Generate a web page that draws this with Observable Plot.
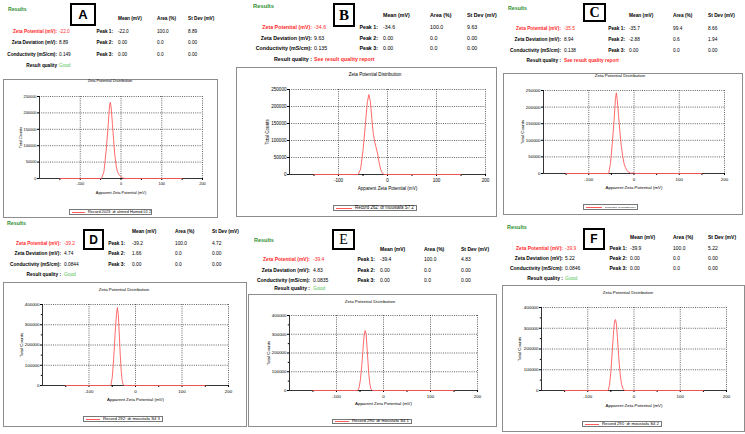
<!DOCTYPE html>
<html><head><meta charset="utf-8">
<script src="https://cdn.jsdelivr.net/npm/d3@7"></script>
<script src="https://cdn.jsdelivr.net/npm/@observablehq/plot@0.6"></script>
<style>
body{margin:0;background:#fff;}
#root{position:relative;width:745px;height:434px;overflow:hidden;font-family:"Liberation Sans",Arial,sans-serif;background:#fff;}
.t{position:absolute;white-space:nowrap;line-height:1;}
.frame{position:absolute;border:1px solid #8c8c8c;box-sizing:border-box;}
.box{position:absolute;border:2px solid #000;box-sizing:border-box;display:flex;align-items:center;justify-content:center;font-weight:bold;line-height:1;}
.leg{position:absolute;border:0.8px solid #777;box-sizing:border-box;}
.chart{position:absolute;}
</style>
</head><body><div id="root"></div>
<script>
// ---------- data ----------
const panels = ["A","B","C","D","E","F"];
const recordNames = ["Record 2023: dr ahmed Hamed 01 2","Record 262: dr moustafa S7 2","Record 261: dr moustafa S7 1","Record 292: dr moustafa S4 3","Record 290: dr moustafa S4 1","Record 291: dr moustafa S4 2"];
const zetaPotential = ["-22.0","-34.6","-35.5","-39.2","-39.4","-39.9"];
const zetaDeviation = ["8.89","9.63","8.94","4.74","4.83","5.22"];
const conductivity = ["0.149","0.135","0.138","0.0844","0.0835","0.0846"];
const resultQuality = ["Good","See result quality report","See result quality report","Good","Good","Good"];
const peak1 = [["-22.0","100.0","8.89"],["-34.6","100.0","9.63"],["-35.7","99.4","8.66"],["-39.2","100.0","4.72"],["-39.4","100.0","4.83"],["-39.9","100.0","5.22"]];
const peak2 = [["0.00","0.0","0.00"],["0.00","0.0","0.00"],["-2.88","0.6","1.94"],["1.66","0.0","0.00"],["0.00","0.0","0.00"],["0.00","0.0","0.00"]];
const peak3 = [["0.00","0.0","0.00"],["0.00","0.0","0.00"],["0.00","0.0","0.00"],["0.00","0.0","0.00"],["0.00","0.0","0.00"],["0.00","0.0","0.00"]];
const rowLabels = ["Zeta Potential (mV):","Zeta Deviation (mV):","Conductivity (mS/cm):"];
const peakLabels = ["Peak 1:","Peak 2:","Peak 3:"];
const colHeaders = ["Mean (mV)","Area (%)","St Dev (mV)"];
const qualityLabels = ["Result quality","Result quality :","Result quality :","Result quality :","Result quality :","Result quality :"];
const xTickValues = [-150,-100,-50,0,50,100,150,200];
const yMaxes = [250000,250000,250000,400000,400000,400000];
const yStepValues = [50000,50000,50000,100000,100000,100000];

const zetaA = [-150,-48,-42,-36,-31,-28,-26,-24,-21,-18,-15,-12,-9,-6,-3,0,4,8,150];
const countsA = [0,0,20000,90000,170000,225000,232000,215000,165000,115000,70000,40000,22000,14000,9000,5000,1500,0,0];
const zetaB = [-150,-60,-55,-50,-45,-41,-38,-35,-32,-29,-26,-23,-20,-17,-14,-11,-7,150];
const countsB = [0,0,15000,70000,150000,215000,235000,215000,165000,120000,95000,78000,60000,35000,15000,5000,0,0];
const zetaC = [-150,-56,-52,-48,-44,-41,-39,-37,-34,-31,-28,-25,-22,-19,-16,-12,-8,-4,-2,1,150];
const countsC = [0,0,30000,90000,160000,225000,243000,222000,172000,122000,82000,52000,30000,18000,10000,4000,1500,500,2500,0,0];
const zetaD = [-150,-53,-50,-47,-44,-41,-39,-37,-35,-33,-31,-29,-27,-25,150];
const countsD = [0,0,40000,130000,250000,350000,385000,350000,260000,160000,80000,30000,8000,0,0];
const zetaE = [-150,-55,-52,-49,-46,-43,-41,-39,-37,-35,-33,-31,-29,-27,-24,150];
const countsE = [0,0,15000,60000,140000,240000,300000,320000,300000,230000,150000,80000,35000,10000,0,0];
const zetaF = [-150,-56,-53,-50,-47,-44,-42,-40,-38,-36,-33,-30,-27,-24,-20,150];
const countsF = [0,0,25000,90000,190000,290000,335000,342000,320000,260000,160000,80000,30000,8000,0,0];
const curveX = [zetaA,zetaB,zetaC,zetaD,zetaE,zetaF];
const curveY = [countsA,countsB,countsC,countsD,countsE,countsF];

// ---------- layout ----------
const FONT = '"Liberation Sans", Arial, sans-serif';
const SERIF = '"Liberation Serif", "Times New Roman", serif';
const LAY = [
 {fs:4.7, res:[8,10], box:[70,3,96,26], lf:FONT, ls:13, headY:19, rows:[32.5,43.5,55,66], labR:57, valL:59, peakR:113, cols:[118,157,188],
  frame:[3,79,218,218], titleX:110, titleY:81, plot:[39,202,96,178], ylabX:20, xlabY:192, cfs:3.9, legend:[69,209,152,215], legTextX:88},
 {fs:5.3, res:[253,7], box:[333,3,355,27], lf:SERIF, ls:15, headY:16, rows:[28,38.5,49,60], labR:312, valL:314, peakR:378, cols:[383,430,467],
  frame:[236,67,497,217], titleX:375, titleY:75, plot:[289,485,89,174], ylabX:267, xlabY:188, cfs:4.6, legend:[333,205,417,211], legTextX:355},
 {fs:4.8, res:[508,9], box:[583,3,606,22], lf:SERIF, ls:14, headY:16, rows:[29.5,40,51,61], labR:561, valL:564, peakR:625, cols:[629,673,708],
  frame:[503,73,743,215], titleX:620, titleY:76, plot:[543,724,90,173], ylabX:522, xlabY:187, cfs:4.4, legend:[583,204,638,210], legTextX:605},
 {fs:4.8, res:[7,224], box:[83,229,104,250], lf:FONT, ls:12, headY:232, rows:[244,254,265,275], labR:61, valL:64, peakR:125, cols:[132,175,212],
  frame:[3,282,247,427], titleX:124, titleY:290, plot:[42,228,304,385], ylabX:21, xlabY:399, cfs:4.4, legend:[83,416,163,422], legTextX:103},
 {fs:5.0, res:[254,241], box:[332,229,355,250], lf:SERIF, ls:14, headY:249, rows:[259,270,280,288], labR:310, valL:313, peakR:375, cols:[380,424,461],
  frame:[248,294,497,427], titleX:370, titleY:302, plot:[289,477,315,390], ylabX:268, xlabY:403, cfs:4.4, legend:[332,419,412,424], legTextX:352},
 {fs:5.0, res:[507,228], box:[583,228,605,250], lf:FONT, ls:12, headY:237, rows:[248,258,268,278], labR:563, valL:565, peakR:627, cols:[630,673,708],
  frame:[502,285,745,432], titleX:628, titleY:293, plot:[541,726,307,390], ylabX:519, xlabY:405, cfs:4.4, legend:[582,421,662,427], legTextX:602}
];
const RED = "#ff2a2a", GREEN = "#2f8f2f", LGREEN = "#55c455", LINE = "#ff5a5a";
const root = document.getElementById("root");

function put(txt, x, y, fs, o = {}) {
  const d = document.createElement("div");
  d.className = "t"; d.textContent = txt;
  d.style.fontSize = fs + "px"; d.style.color = o.color || "#000";
  d.style.fontWeight = o.weight || "normal"; d.style.fontFamily = o.family || FONT;
  d.style.top = (y - fs * 0.5) + "px";
  if (o.align === "right") d.style.right = (745 - x) + "px";
  else if (o.align === "center") { d.style.left = x + "px"; d.style.transform = "translateX(-50%)"; }
  else d.style.left = x + "px";
  root.append(d);
  return d;
}
function rect(cls, x0, y0, x1, y1) {
  const d = document.createElement("div");
  d.className = cls;
  Object.assign(d.style, {left: x0 + "px", top: y0 + "px", width: (x1 - x0) + "px", height: (y1 - y0) + "px"});
  root.append(d);
  return d;
}

panels.forEach((p, i) => {
  const c = LAY[i], fs = c.fs;
  rect("frame", ...c.frame);
  put("Results", c.res[0], c.res[1], fs * 1.1, {color: GREEN, weight: "bold"});
  const b = rect("box", ...c.box);
  b.textContent = p; b.style.fontFamily = c.lf; b.style.fontSize = c.ls + "px";
  if (p === "E") b.style.fontWeight = "normal";
  colHeaders.forEach((h, k) => put(h, c.cols[k], c.headY, fs, {weight: "bold"}));
  const vals = [zetaPotential[i], zetaDeviation[i], conductivity[i]];
  const peaks = [peak1[i], peak2[i], peak3[i]];
  rowLabels.forEach((lab, r) => {
    const col = r === 0 ? RED : "#000";
    put(lab, c.labR, c.rows[r], fs, {align: "right", weight: "bold", color: col});
    put(vals[r], c.valL, c.rows[r], fs, {color: col});
    put(peakLabels[r], c.peakR, c.rows[r], fs, {align: "right", weight: "bold"});
    peaks[r].forEach((v, k) => put(v, c.cols[k], c.rows[r], fs));
  });
  put(qualityLabels[i], c.labR, c.rows[3], fs, {align: "right", weight: "bold"});
  const good = resultQuality[i] === "Good";
  put(resultQuality[i], c.valL, c.rows[3], fs, {color: good ? LGREEN : RED, weight: good ? "normal" : "bold"});
  put("Zeta Potential Distribution", c.titleX, c.titleY, c.cfs, {align: "center"});
  // chart
  const [x0, x1, y0, y1] = c.plot;
  const mL = 30, mR = 8, mT = 6, mB = Math.ceil(c.xlabY - y1 + 6);
  const data = curveX[i].map((x, j) => ({x, y: curveY[i][j]}));
  const ymax = yMaxes[i], ystep = yStepValues[i];
  const majorY = d3.range(0, ymax + 1, ystep);
  const minorY = ystep === 100000 ? d3.range(50000, ymax, 100000) : [];
  const dotted = {stroke: "#222", strokeOpacity: 1, strokeDasharray: "1,1.2", strokeWidth: 0.7};
  const svg = Plot.plot({
    width: x1 - x0 + mL + mR, height: y1 - y0 + mT + mB,
    marginLeft: mL, marginRight: mR, marginTop: mT, marginBottom: mB,
    style: {fontFamily: FONT, fontSize: c.cfs + "px", background: "transparent", overflow: "visible"},
    x: {domain: [-200, 200]}, y: {domain: [0, ymax]},
    marks: [
      Plot.gridX({ticks: [-100, 0, 100, 200], ...dotted}),
      Plot.gridY({ticks: majorY.slice(1), ...dotted}),
      Plot.ruleY([0], {stroke: "#000", strokeWidth: 0.8}),
      Plot.ruleX([-200], {stroke: "#000", strokeWidth: 0.8}),
      Plot.axisY({ticks: majorY, tickFormat: d => String(d), tickSize: 2, tickPadding: 1, label: null}),
      Plot.axisY({ticks: minorY, tickFormat: () => "", tickSize: 1.2, label: null}),
      Plot.axisX({ticks: xTickValues, tickFormat: d => d % 100 === 0 ? String(d) : "", tickSize: 2, tickPadding: 2, label: null}),
      Plot.line(data, {x: "x", y: "y", stroke: LINE, strokeWidth: 0.9}),
      Plot.text(["Total Counts"], {text: d => d, frameAnchor: "left", dx: c.ylabX - x0, rotate: -90, textAnchor: "middle", lineAnchor: "middle"}),
      Plot.text(["Apparent Zeta Potential (mV)"], {text: d => d, frameAnchor: "bottom", dy: c.xlabY - y1, textAnchor: "middle", lineAnchor: "middle"})
    ]
  });
  svg.classList.add("chart");
  svg.style.left = (x0 - mL) + "px"; svg.style.top = (y0 - mT) + "px";
  root.append(svg);
  // legend
  rect("leg", ...c.legend);
  const lh = c.legend[3] - c.legend[1];
  const ln = document.createElement("div");
  Object.assign(ln.style, {position: "absolute", left: (c.legend[0] + 3) + "px", top: (c.legend[1] + lh / 2 - 0.5) + "px",
    width: (c.legTextX - c.legend[0] - 6) + "px", height: "1px", background: LINE});
  root.append(ln);
  const legFs = Math.min(c.cfs, (c.legend[2] - c.legTextX - 1) / 13.8);
  put(recordNames[i], c.legTextX, c.legend[1] + lh / 2, legFs);
});
</script>
</body></html>
